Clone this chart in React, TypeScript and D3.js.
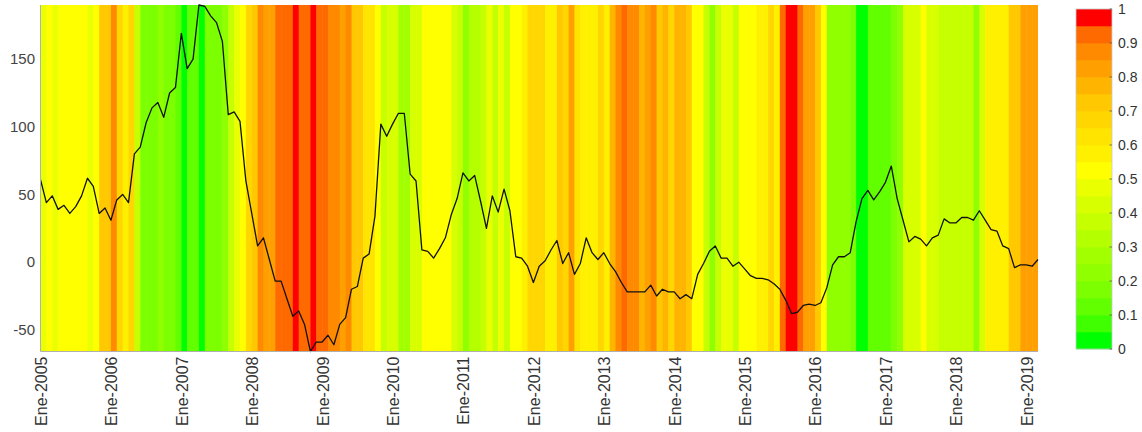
import React from "react";
import * as d3 from "d3";

// Monthly series, Jan 2005 .. Mar 2019 (171 points)
const lineValues: number[] = [
  61, 44, 49, 39, 42, 36, 41, 49, 62, 56,
  36, 40, 31, 46, 50, 44, 80, 85, 103, 114,
  118, 107, 125, 129, 169, 143, 150, 190, 189, 182,
  177, 163, 109, 111, 104, 60, 36, 12, 18, 2,
  -14, -14, -27, -40, -36, -46, -66, -59, -59, -54,
  -61, -46, -41, -20, -18, 3, 6, 34, 102, 93,
  102, 110, 110, 65, 60, 9, 8, 3, 10, 18,
  35, 47, 66, 60, 64, 45, 25, 49, 37, 54,
  38, 4, 3, -3, -15, -3, 1, 9, 16, -1,
  7, -9, -1, 18, 7, 2, 7, -1, -7, -15,
  -22, -22, -22, -22, -17, -25, -20, -22, -22, -27,
  -24, -27, -9, -1, 8, 12, 3, 3, -3, 0,
  -5, -10, -12, -12, -13, -16, -20, -28, -38, -37,
  -32, -31, -32, -30, -19, -2, 4, 4, 7, 30,
  47, 53, 46, 52, 59, 71, 47, 31, 15, 19,
  17, 12, 18, 20, 32, 29, 29, 33, 33, 31,
  38, 31, 24, 23, 12, 10, -4, -2, -2, -3,
  2,
];

// Monthly band level (0..1), one per month interval (170)
const bandLevels: number[] = [
  0.45, 0.52, 0.47, 0.52, 0.52, 0.52, 0.52, 0.52, 0.45, 0.52,
  0.7, 0.7, 0.87, 0.67, 0.55, 0.67, 0.35, 0.17, 0.15, 0.17,
  0.2, 0.17, 0.15, 0.12, 0.02, 0.12, 0.12, 0.02, 0.17, 0.15,
  0.17, 0.2, 0.35, 0.45, 0.5, 0.67, 0.72, 0.87, 0.82, 0.82,
  0.92, 0.92, 0.92, 0.97, 0.92, 0.92, 0.97, 0.92, 0.92, 0.87,
  0.87, 0.82, 0.87, 0.7, 0.7, 0.6, 0.6, 0.52, 0.38, 0.42,
  0.42, 0.27, 0.27, 0.42, 0.42, 0.52, 0.52, 0.52, 0.52, 0.52,
  0.42, 0.35, 0.22, 0.3, 0.3, 0.37, 0.45, 0.37, 0.45, 0.37,
  0.52, 0.52, 0.57, 0.65, 0.65, 0.65, 0.57, 0.57, 0.72, 0.65,
  0.82, 0.6, 0.57, 0.57, 0.57, 0.67, 0.55, 0.77, 0.87, 0.92,
  0.87, 0.87, 0.77, 0.82, 0.87, 0.72, 0.77, 0.67, 0.77, 0.77,
  0.7, 0.52, 0.52, 0.37, 0.22, 0.37, 0.47, 0.47, 0.37, 0.52,
  0.52, 0.52, 0.57, 0.57, 0.67, 0.57, 0.92, 0.97, 0.97, 0.92,
  0.82, 0.82, 0.72, 0.52, 0.22, 0.22, 0.22, 0.22, 0.17, 0.02,
  0.02, 0.12, 0.12, 0.1, 0.1, 0.17, 0.22, 0.42, 0.42, 0.42,
  0.52, 0.42, 0.42, 0.35, 0.35, 0.35, 0.35, 0.35, 0.35, 0.22,
  0.42, 0.57, 0.57, 0.57, 0.57, 0.72, 0.72, 0.8, 0.82, 0.82,
];

const palette: string[] = [
  "#00ff00", "#40ff00", "#62ff00", "#7cff00", "#90ff00",
  "#a2ff00", "#b4ff00", "#c6ff00", "#d8ff00", "#eaff00",
  "#ffff00", "#fff000", "#ffe400", "#ffd600", "#ffc800",
  "#ffb400", "#ffa000", "#ff8a00", "#ff6a00", "#ff0000",
];

const xTickMonths: number[] = [0, 12, 24, 36, 48, 60, 72, 84, 96, 108, 120, 132, 144, 156, 168];
const xTickLabels: string[] = [
  "Ene-2005", "Ene-2006", "Ene-2007", "Ene-2008", "Ene-2009", "Ene-2010", "Ene-2011", "Ene-2012",
  "Ene-2013", "Ene-2014", "Ene-2015", "Ene-2016", "Ene-2017", "Ene-2018", "Ene-2019",
];
const yTicks: number[] = [-50, 0, 50, 100, 150];
const cbTicks: number[] = [0, 0.1, 0.2, 0.3, 0.4, 0.5, 0.6, 0.7, 0.8, 0.9, 1];

const W = 1142;
const H = 432;
const plot = { left: 40.5, right: 1038, top: 5, bottom: 351.5 };
const cb = { left: 1076, right: 1112, top: 9, bottom: 349 };
const FONT = "'Liberation Sans', Arial, Helvetica, sans-serif";

export default function App() {
  const x = d3.scaleLinear().domain([0, lineValues.length - 1]).range([plot.left, plot.right]);
  const ext = d3.extent(lineValues) as [number, number];
  const y = d3.scaleLinear().domain(ext).range([plot.bottom, plot.top]);
  const color = d3.scaleQuantize<string>().domain([0, 1]).range(palette);
  const cbY = d3.scaleLinear().domain([0, 1]).range([cb.bottom, cb.top]);
  const line = d3
    .line<number>()
    .x((_, i) => x(i))
    .y((d) => y(d));

  const steps = d3.range(palette.length).map((i) => i / palette.length);

  return (
    <svg
      width={W}
      height={H}
      style={{ position: "absolute", left: 0, top: 0, background: "#fff" }}
      fontFamily={FONT}
    >
      <defs>
        <clipPath id="plotclip">
          <rect x={plot.left} y={plot.top} width={plot.right - plot.left} height={plot.bottom - plot.top} />
        </clipPath>
      </defs>
      <g clipPath="url(#plotclip)">
        {bandLevels.map((v, i) => (
          <rect
            key={i}
            x={x(i)}
            y={plot.top}
            width={x(i + 1) - x(i) + 0.5}
            height={plot.bottom - plot.top}
            fill={color(v)}
          />
        ))}
      </g>
      <path d={line(lineValues) || ""} fill="none" stroke="#111" strokeWidth={1.3} strokeLinejoin="round" />
      {/* axes */}
      <line x1={plot.left} x2={plot.left} y1={plot.top} y2={plot.bottom} stroke="#b0b0b0" strokeWidth={1} />
      <line x1={plot.left} x2={plot.right} y1={plot.bottom} y2={plot.bottom} stroke="#b0b0b0" strokeWidth={1} />
      {yTicks.map((t) => (
        <text key={t} x={35} y={y(t)} dy="0.35em" textAnchor="end" fontSize={15} fill="#444">
          {t}
        </text>
      ))}
      {xTickMonths.map((m, i) => (
        <text
          key={m}
          transform={`translate(${x(m)},${plot.bottom + 5}) rotate(-90)`}
          dy="0.4em"
          textAnchor="end"
          fontSize={16}
          fill="#333"
        >
          {xTickLabels[i]}
        </text>
      ))}
      {/* colorbar */}
      {steps.map((s, i) => (
        <rect
          key={i}
          x={cb.left}
          y={cbY(s + 1 / palette.length)}
          width={cb.right - cb.left}
          height={cbY(s) - cbY(s + 1 / palette.length) + 0.3}
          fill={color(s + 0.5 / palette.length)}
        />
      ))}
      <rect
        x={cb.left}
        y={cb.top}
        width={cb.right - cb.left}
        height={cb.bottom - cb.top}
        fill="none"
        stroke="#c8c8c8"
        strokeWidth={0.8}
      />
      {cbTicks.map((t) => (
        <g key={t}>
          <line x1={cb.right - 2.5} x2={cb.right} y1={cbY(t)} y2={cbY(t)} stroke="#555" strokeWidth={0.8} />
          <text x={cb.right + 6} y={cbY(t)} dy="0.35em" fontSize={14} fill="#333">
            {t}
          </text>
        </g>
      ))}
    </svg>
  );
}
